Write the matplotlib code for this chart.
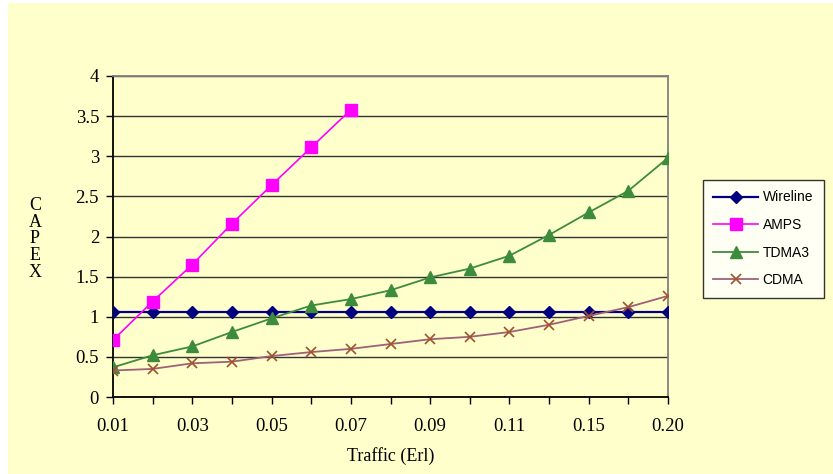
import numpy as np
import matplotlib.pyplot as plt
from matplotlib.patches import Rectangle

# traffic categories (Erl) and CAPEX per technology
traffic = ['0.01', '0.02', '0.03', '0.04', '0.05', '0.06', '0.07', '0.08',
           '0.09', '0.10', '0.11', '0.12', '0.15', '0.18', '0.20']
wireline = [1.06] * 15
amps = [0.71, 1.19, 1.65, 2.16, 2.64, 3.11, 3.58]
tdma3 = [0.37, 0.52, 0.63, 0.81, 0.98, 1.14, 1.22, 1.33, 1.49, 1.60,
         1.76, 2.02, 2.30, 2.57, 2.98]
cdma = [0.33, 0.35, 0.42, 0.44, 0.51, 0.56, 0.60, 0.66, 0.72, 0.75,
        0.81, 0.90, 1.01, 1.12, 1.26]

bg = '#FFFFCC'
serif = ['Liberation Serif', 'DejaVu Serif']
sans = ['Liberation Sans', 'DejaVu Sans']

fig = plt.figure(figsize=(8.33, 4.74), dpi=100, facecolor='white')
fig.patches.append(Rectangle((8 / 833, 0), 1, 1 - 3 / 474, transform=fig.transFigure,
                             facecolor=bg, edgecolor='none', zorder=-10))

ax = fig.add_axes([113 / 833, 77 / 474, 555 / 833, 321 / 474])
ax.set_facecolor(bg)

xs = np.arange(len(traffic))
ax.plot(xs, wireline, color='#000080', lw=1.6, marker='D', ms=6.5, label='Wireline', zorder=4)
ax.plot(xs[:len(amps)], amps, color='#FF00FF', lw=1.2, marker='s', ms=8, label='AMPS', zorder=5)
ax.plot(xs, tdma3, color='#3C8C3C', lw=1.3, marker='^', ms=8, label='TDMA3', zorder=4)
ax.plot(xs, cdma, color='#A0607A', lw=1.3, marker='x', ms=7, mew=1.2, mec='#A0522D',
        label='CDMA', zorder=4)

ax.set_xlim(0, len(traffic) - 1)
ax.set_ylim(0, 4)
ax.set_yticks(np.arange(0, 4.01, 0.5))
ax.set_yticklabels(['0', '0.5', '1', '1.5', '2', '2.5', '3', '3.5', '4'],
                   family=serif, fontsize=13.5)
ax.set_xticks(xs)
ax.set_xticklabels([t if i % 2 == 0 else '' for i, t in enumerate(traffic)],
                   family=serif, fontsize=13.5)
ax.tick_params(axis='both', direction='out', length=5, width=1, color='black')
ax.tick_params(axis='x', pad=10)
ax.tick_params(axis='y', pad=5)
ax.yaxis.grid(True, color='#333333', lw=1)
ax.set_axisbelow(True)

for s in ['left', 'bottom']:
    ax.spines[s].set_color('black')
    ax.spines[s].set_linewidth(1.3)
for s in ['top', 'right']:
    ax.spines[s].set_color('#808080')
    ax.spines[s].set_linewidth(1.3)

ax.set_xlabel('Traffic (Erl)', family=serif, fontsize=13, labelpad=9)
fig.text(35 / 833, 1 - 239 / 474, 'C\nA\nP\nE\nX', family=serif, fontsize=13,
         ha='center', va='center', linespacing=0.98)

leg = ax.legend(loc='upper left', bbox_to_anchor=(703 / 833, 1 - 180 / 474),
                bbox_transform=fig.transFigure, frameon=True, fancybox=False,
                prop={'family': sans, 'size': 10}, borderpad=0.75, labelspacing=0.98,
                handlelength=3.2, handletextpad=0.35, borderaxespad=0)
leg.get_frame().set_edgecolor('black')
leg.get_frame().set_facecolor('white')
leg.get_frame().set_linewidth(1.0)

fig.savefig('out.png', dpi=100, facecolor=fig.get_facecolor())
